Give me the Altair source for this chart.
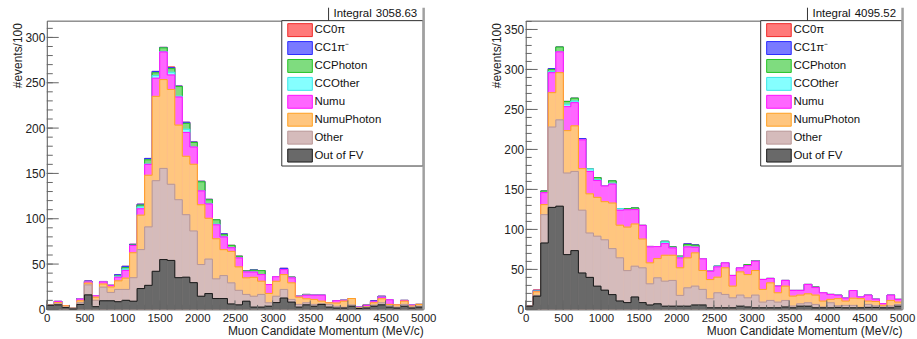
import altair as alt
import pandas as pd

FONT = "Liberation Sans"
W, H = 378, 290

# 50 momentum bins of 100 MeV/c
bin_lo = list(range(0, 5000, 100))
bin_hi = [b + 100 for b in bin_lo]

categories = ["CC0π", "CC1π⁻", "CCPhoton", "CCOther", "Numu", "NumuPhoton", "Other", "Out of FV"]
fill_colors = ["#ff7a7a", "#7a7aff", "#7fdc7f", "#85ffff", "#ff66ff", "#ffc67f", "#d5bbbb", "#696969"]
line_colors = ["#f02a2a", "#2a2aff", "#22c422", "#38e6e6", "#ff10ff", "#ffa020", "#b89696", "#1a1a1a"]

x_major = [0, 500, 1000, 1500, 2000, 2500, 3000, 3500, 4000, 4500, 5000]
x_minor = list(range(0, 5001, 100))

# ---- left panel ----
left_ymax = 318.5
left_major = [0, 50, 100, 150, 200, 250, 300]
left_integral = "3058.63"
left_out_fv = [4.5, 5, 2, 0.5, 5.5, 16, 3, 9.5, 9.5, 8.5,
               10, 9, 23, 26.5, 42, 55, 54, 35, 35.5, 29.5,
               14.5, 17.5, 12, 12, 6, 5, 9, 2.5, 2.5, 3.5,
               7.5, 12.5, 8, 2.5, 5, 3.5, 5.5, 2.5, 1.5, 1.5,
               3.5, 1, 1.5, 3.5, 5, 2.5, 1.5, 3.5, 1.5, 2.5]
left_other = [0.5, 1, 0.5, 1.3, 2, 11, 7, 15, 9.2, 13.5,
              12, 26, 43, 64.5, 100, 100.5, 84, 86, 69, 57,
              35, 38, 21.7, 25.3, 23.3, 16, 7.5, 12, 14, 3.8,
              7, 9.5, 3, 3, 2.3, 2, 0.5, 3, 1.9, 0.8,
              1.3, 0.5, 1, 1.3, 2.3, 1.5, 1, 2, 1, 1]
left_numuphoton = [0, 1.5, 1.5, 0, 2, 2, 3.5, 3.5, 6, 9.5,
                   12.5, 27.5, 38, 57, 93, 98, 104.6, 82.3, 64.4, 73.6,
                   65.9, 45, 44.2, 28.6, 34.7, 25.9, 18.3, 20.9, 14.6, 10.3,
                   16.5, 16.4, 18.3, 8, 4.4, 5.5, 3.1, 1.8, 3.6, 6.8,
                   7.2, 0.5, 0.5, 2.5, 4.4, 1.5, 2.5, 3.6, 1.2, 2]
left_numu = [0, 1.3, 0.2, 0, 2, 1.3, 1.5, 2.3, 1.8, 4,
             8.5, 8, 7, 12, 20, 30.5, 16, 31, 26.3, 19,
             15.3, 15.8, 15.4, 14, 4, 9.9, 6.5, 5.8, 7.3, 9.8,
             5, 5.5, 5.5, 1, 4, 4.7, 6.6, 0, 2.6, 1,
             0, 0.6, 1.5, 1.1, 1.8, 5.1, 0, 0.8, 1.1, 0]
left_ccother = [0, 0, 0, 0, 0, 0, 0, 0, 0, 1,
                1.5, 0, 2, 0.5, 3, 0.5, 3, 1, 3.5, 0,
                0, 0.6, 0.7, 0.5, 0, 0, 0, 0, 0, 0,
                0, 0, 0, 0, 0, 0, 0, 0, 0, 0,
                0, 0, 0, 0, 0, 0, 0, 0, 0, 0]
left_ccphoton = [0, 0, 0, 0, 0, 0, 0, 0, 0, 0.5,
                 1.5, 0.5, 2, 4.5, 3, 4, 4, 10.5, 6.5, 5,
                 10, 4, 4.8, 2, 2.6, 1.8, 1, 2, 4.4, 0,
                 0, 0, 0.7, 0, 0.8, 0, 0, 0, 0, 0,
                 0, 0, 0, 0, 0, 0, 0, 0, 0, 0]
left_cc1pi = [0, 0, 0, 0, 0.5, 1, 0, 0.5, 0, 1.2,
              1.5, 0.8, 1, 1.5, 1.5, 0.5, 1, 0.5, 1.2, 0.5,
              0.6, 0.5, 0, 0.9, 0, 0, 0, 0.4, 0, 0,
              0, 1.4, 0, 0, 0, 0, 0, 0, 0, 0,
              0, 0, 0, 1, 1, 0, 0, 0, 0, 0]
left_cc0pi = [0, 0, 0, 0, 0, 0, 0, 0, 0, 0,
              0, 0, 0, 0, 0, 0, 0.8, 0, 0, 0,
              0, 0, 0, 0, 0, 0, 0, 0, 0, 0,
              0, 0, 0, 0, 0, 0, 0, 0, 0, 0,
              0, 0, 0.5, 0, 0, 0, 0, 0, 0, 0]

# ---- right panel ----
right_ymax = 361
right_major = [0, 50, 100, 150, 200, 250, 300, 350]
right_integral = "4095.52"
right_out_fv = [4, 16.5, 83, 127.5, 129, 68.5, 73.5, 45.5, 40, 29,
                24, 18.5, 10.5, 8.5, 15.5, 8.5, 5.5, 7, 4, 4,
                4, 4, 5.5, 5.5, 2, 2, 2, 2, 4, 3,
                2, 2, 2, 2, 3, 2, 4, 4, 2, 2,
                2, 2.5, 2, 2, 2, 2.5, 2.5, 2, 2, 4]
right_other = [0, 1, 35.5, 100.5, 108, 102, 99, 78.5, 55.5, 62.5,
               63, 57.5, 54, 40, 38.5, 43.5, 26.5, 32.5, 31.3, 32.2,
               13.5, 23, 23.6, 19.5, 11.3, 18.8, 16.7, 12.5, 13.9, 11.5,
               15.9, 7.1, 9.2, 7.1, 8.2, 2.2, 3, 4.3, 4.2, 0.9,
               6.3, 2, 3, 3, 0.5, 3.7, 2, 1, 2.2, 2.2]
right_numuphoton = [0, 4.5, 12.5, 43, 59, 53, 57, 52, 49, 48.6,
                    47.7, 57, 40.8, 54.4, 52.8, 36, 26.2, 24, 32.4, 31.5,
                    34.5, 37.4, 41.6, 23.6, 24, 19.5, 33.3, 14.6, 29, 29,
                    30.7, 15.9, 22, 11.7, 17.9, 12.4, 10.9, 11.2, 11.7, 7.5,
                    4.2, 9, 5.4, 9, 11, 4.2, 5.4, 2.2, 7, 2.9]
right_numu = [0, 0.5, 15, 25, 26, 30, 29, 36, 28, 21,
              19.6, 23.7, 18.7, 21.7, 18, 17, 20, 15, 14.6, 9.2,
              12.4, 13.7, 7, 14.6, 10.4, 12.9, 6.2, 13.3, 5, 11.3,
              11.7, 12.4, 5.5, 8.3, 7.1, 7.1, 5.8, 11.7, 9.4, 10.4,
              6.2, 4.2, 3.7, 9.6, 2.1, 7.5, 2.9, 2, 6.7, 3.4]
right_ccother = [0, 0.3, 0, 1.5, 0, 3, 2, 0, 3, 1.2,
                 0, 1, 2, 0, 0, 0, 0, 0, 2, 0,
                 1, 0, 0, 0, 0, 0.8, 0, 0, 0, 0,
                 0, 0, 0, 0, 0, 0, 0, 0, 0, 0,
                 0, 0, 0, 0, 0, 0, 0, 0, 0, 0]
right_ccphoton = [0, 0, 2, 2.5, 6, 3.5, 3.5, 0, 0, 2.5,
                  0, 3, 0, 1.3, 2, 0, 0, 0, 0.8, 1.2,
                  1, 3, 2.5, 0, 0, 0, 0, 0, 0, 1.2,
                  0.8, 0, 0, 0, 0, 0, 0, 0, 0.5, 0,
                  0, 0, 0, 0, 0, 0, 0, 0, 0, 0]
right_cc1pi = [0, 1, 0, 1, 0, 0, 0, 1.5, 0, 0,
               0, 0, 0, 0, 0, 0, 0.5, 0, 0, 0,
               0, 0.8, 0.5, 0, 0, 0, 0, 0, 0, 0,
               0, 0, 0, 0, 0, 0, 0, 0, 0, 0,
               0, 0, 0, 0, 0, 0, 0, 0, 0, 0]
right_cc0pi = [0, 0.5, 0, 0, 0, 0, 0, 0, 0, 0,
               0, 0, 0, 0, 0, 0, 0, 0, 0, 0,
               0, 0, 0, 0, 0, 0, 0, 0, 0, 0,
               0, 0, 0, 0, 0, 0, 0, 0, 0, 0,
               0, 0, 0, 0, 0, 0, 0, 0, 0, 0]

left_series = [left_cc0pi, left_cc1pi, left_ccphoton, left_ccother,
               left_numu, left_numuphoton, left_other, left_out_fv]
right_series = [right_cc0pi, right_cc1pi, right_ccphoton, right_ccother,
                right_numu, right_numuphoton, right_other, right_out_fv]

RECT_PATH = "M-1.9,-1H1.9V1H-1.9Z"


def long_table(series):
    rows = []
    n = len(categories)
    for i, (cat, vals) in enumerate(zip(categories, series)):
        for b, (lo, hi, v) in enumerate(zip(bin_lo, bin_hi, vals)):
            # stack order: first entry of the legend sits on top
            rows.append({"cat": cat, "order": n - 1 - i, "bin": b, "lo": lo, "hi": hi, "value": v})
    return pd.DataFrame(rows)


def panel(series, ymax, y_major, integral):
    y_minor = list(range(0, int(ymax) + 1, 10))
    xaxis = alt.Axis(values=x_major, format="d", title="Muon Candidate Momentum (MeV/c)",
                     ticks=False, domain=False, grid=False, labelFlush=False,
                     labelPadding=3, labelFont=FONT, labelFontSize=11.5, labelColor="#222",
                     titleFont=FONT, titleFontSize=12, titleFontWeight="normal", titleColor="#222",
                     titleX=W, titleY=25, titleAlign="right", titleBaseline="alphabetic")
    yaxis = alt.Axis(values=y_major, format="d", title="#events/100",
                     ticks=False, domain=False, grid=False,
                     labelPadding=2, labelFont=FONT, labelFontSize=12, labelColor="#222",
                     titleFont=FONT, titleFontSize=12, titleFontWeight="normal", titleColor="#222",
                     titleAngle=270, titleX=-22, titleY=2, titleAlign="right", titleBaseline="bottom")
    xs = alt.Scale(domain=[0, 5000], nice=False, zero=False)
    ys = alt.Scale(domain=[0, ymax], nice=False)

    def X(f):
        return alt.X(f"{f}:Q", scale=xs, axis=xaxis)

    def Y(f):
        return alt.Y(f"{f}:Q", scale=ys, axis=yaxis, stack=None)

    leg = alt.Legend(title=None, orient="none", legendX=W - 142, legendY=0, padding=2.5,
                     symbolType=RECT_PATH, symbolSize=169, symbolStrokeWidth=1,
                     symbolOffset=8.85, labelOffset=7.5, rowPadding=0,
                     labelFont=FONT, labelFontSize=11.5, labelColor="#111", labelLimit=300)
    fill_scale = alt.Scale(domain=categories, range=fill_colors)
    line_scale = alt.Scale(domain=categories, range=line_colors)

    # cumulative height of each component within its bin
    stacked = (alt.Chart(long_table(series))
               .transform_window(top="sum(value)", groupby=["bin"],
                                 sort=[alt.SortField("order", order="ascending")], frame=[None, 0]))
    # step outline: each bin contributes its two edges
    outline = (stacked
               .transform_fold(["lo", "hi"], as_=["edge", "x"])
               .transform_calculate(key="datum.bin * 2 + (datum.edge == 'hi' ? 1 : 0)"))

    layers = []
    # cumulative histograms drawn from the full stack down to the lowest component
    for cat, fc in zip(categories, fill_colors):
        layers.append(stacked.transform_filter(alt.datum.cat == cat)
                      .mark_rect(stroke=fc, strokeWidth=0.6)
                      .encode(x=X("lo"), x2=alt.X2("hi:Q"), y=Y("top"), y2=alt.datum(0),
                              fill=alt.Fill("cat:N", scale=fill_scale, legend=leg)))
        layers.append(outline.transform_filter(alt.datum.cat == cat)
                      .mark_line(strokeWidth=1)
                      .encode(x=X("x"), y=Y("top"), order="key:Q",
                              stroke=alt.Stroke("cat:N", scale=line_scale, legend=leg)))

    # inward tick marks
    layers.append(alt.Chart(pd.DataFrame({"v": y_major})).mark_rule(color="#666").encode(
        y=Y("v"), x=alt.value(0), x2=alt.value(12)))
    layers.append(alt.Chart(pd.DataFrame({"v": y_minor})).mark_rule(color="#666").encode(
        y=Y("v"), x=alt.value(0), x2=alt.value(6)))
    layers.append(alt.Chart(pd.DataFrame({"v": x_major})).mark_rule(color="#666").encode(
        x=X("v"), y=alt.value(H), y2=alt.value(H - 9)))
    layers.append(alt.Chart(pd.DataFrame({"v": x_minor})).mark_rule(color="#666").encode(
        x=X("v"), y=alt.value(H), y2=alt.value(H - 4.5)))

    one = pd.DataFrame({"label": ["Integral"], "value": [integral]})
    # legend frame
    layers.append(alt.Chart(one).mark_rect(fill="white", stroke="#333", strokeWidth=1).encode(
        x=alt.value(W - 142), x2=alt.value(W), y=alt.value(0), y2=alt.value(146)))
    # statistics box
    layers.append(alt.Chart(one).mark_rule(color="#333", strokeWidth=1).encode(
        x=alt.value(W - 95), y=alt.value(-13), y2=alt.value(0)))
    layers.append(alt.Chart(one).mark_text(align="left", baseline="middle", font=FONT,
                                           fontSize=11.5, color="#111").encode(
        x=alt.value(W - 90), y=alt.value(-6.5), text="label:N"))
    layers.append(alt.Chart(one).mark_text(align="right", baseline="middle", font=FONT,
                                           fontSize=11.5, color="#111").encode(
        x=alt.value(W - 6), y=alt.value(-6.5), text="value:N"))
    # pad shadow on the right edge
    layers.append(alt.Chart(one).mark_rule(color="#a0a0a0", strokeWidth=2.5).encode(
        x=alt.value(W + 0.5), y=alt.value(-13), y2=alt.value(H)))

    return alt.layer(*layers).properties(width=W, height=H)


left = panel(left_series, left_ymax, left_major, left_integral)
right = panel(right_series, right_ymax, right_major, right_integral)

chart = (alt.hconcat(left, right, spacing=103, bounds="flush")
         .resolve_scale(x="independent", y="independent", fill="independent", stroke="independent")
         .resolve_legend(fill="independent", stroke="independent")
         .configure_view(stroke="#555", strokeWidth=1)
         .properties(padding={"left": 11, "top": 5, "right": 1, "bottom": 4}, background="white"))

chart.save("out.html", embed_options={"renderer": "svg", "actions": False})
